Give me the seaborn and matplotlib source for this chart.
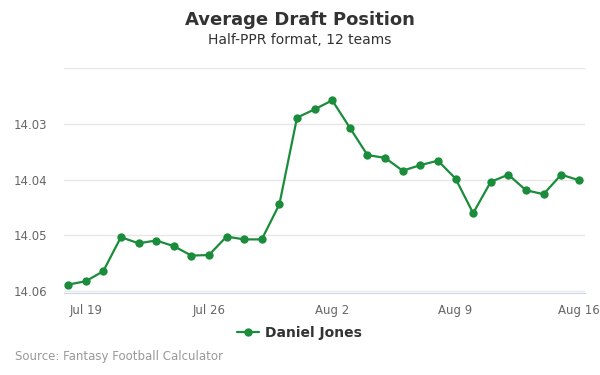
import pandas as pd
import matplotlib
matplotlib.use('Agg')
import matplotlib.pyplot as plt
import seaborn as sns

# datos
fechas = pd.date_range('2019-07-18', '2019-08-16', freq='D')
adp = [14.0588, 14.0582, 14.0564, 14.0503, 14.0514, 14.0509, 14.0519, 14.0536,
       14.0535, 14.0502, 14.0507, 14.0507, 14.0444, 14.0289, 14.0274, 14.0258,
       14.0307, 14.0356, 14.0361, 14.0384, 14.0374, 14.0366, 14.0398, 14.0460,
       14.0404, 14.0391, 14.0419, 14.0426, 14.0391, 14.0401]
jugador = 'Daniel Jones'
ticks_x = ['2019-07-19', '2019-07-26', '2019-08-02', '2019-08-09', '2019-08-16']
etiquetas_x = ['Jul 19', 'Jul 26', 'Aug 2', 'Aug 9', 'Aug 16']
ticks_y = [14.02, 14.03, 14.04, 14.05, 14.06]
etiquetas_y = ['', '14.03', '14.04', '14.05', '14.06']

df = pd.DataFrame({'fecha': fechas, 'adp': adp, 'jugador': jugador})

sns.set_style('white')
plt.rcParams['font.family'] = ['DejaVu Sans']
verde = '#1b8c3b'

fig = plt.figure(figsize=(6, 3.75), dpi=100)
ax = fig.add_axes([0.1067, 0.2187, 0.868, 0.6])

sns.lineplot(data=df, x='fecha', y='adp', hue='jugador', palette=[verde],
             marker='o', markersize=6, markeredgewidth=0, linewidth=1.6, ax=ax)

ax.set_xlim(pd.Timestamp('2019-07-18') - pd.Timedelta(hours=5.5),
            pd.Timestamp('2019-08-16') + pd.Timedelta(hours=8.2))
ax.set_ylim(14.0603, 14.02)
ax.set_xticks(pd.to_datetime(ticks_x))
ax.set_xticklabels(etiquetas_x)
ax.set_yticks(ticks_y)
ax.set_yticklabels(etiquetas_y)
ax.grid(axis='y', color='#e6e6e6', linewidth=1)
ax.set_xlabel('')
ax.set_ylabel('')
for s in ['top', 'right', 'left']:
    ax.spines[s].set_visible(False)
ax.spines['bottom'].set_color('#ccd6eb')
ax.tick_params(axis='x', length=6, color='#ccd6eb', labelsize=8.5, labelcolor='#666666', pad=2)
ax.tick_params(axis='y', length=0, labelsize=8.5, labelcolor='#666666', pad=12)

leg = ax.legend(loc='upper center', bbox_to_anchor=(0.452, -0.09), frameon=False,
                handlelength=1.6, handletextpad=0.4, prop={'weight': 'bold', 'size': 10})
for t in leg.get_texts():
    t.set_color('#333333')

fig.text(0.5, 0.947, 'Average Draft Position', ha='center', va='center',
         fontsize=13, fontweight='bold', color='#333333')
fig.text(0.5, 0.892, 'Half-PPR format, 12 teams', ha='center', va='center',
         fontsize=10, color='#333333')
fig.text(0.025, 0.049, 'Source: Fantasy Football Calculator', ha='left', va='center',
         fontsize=8.5, color='#999999')

plt.savefig('out.png', dpi=100)
plt.close()
